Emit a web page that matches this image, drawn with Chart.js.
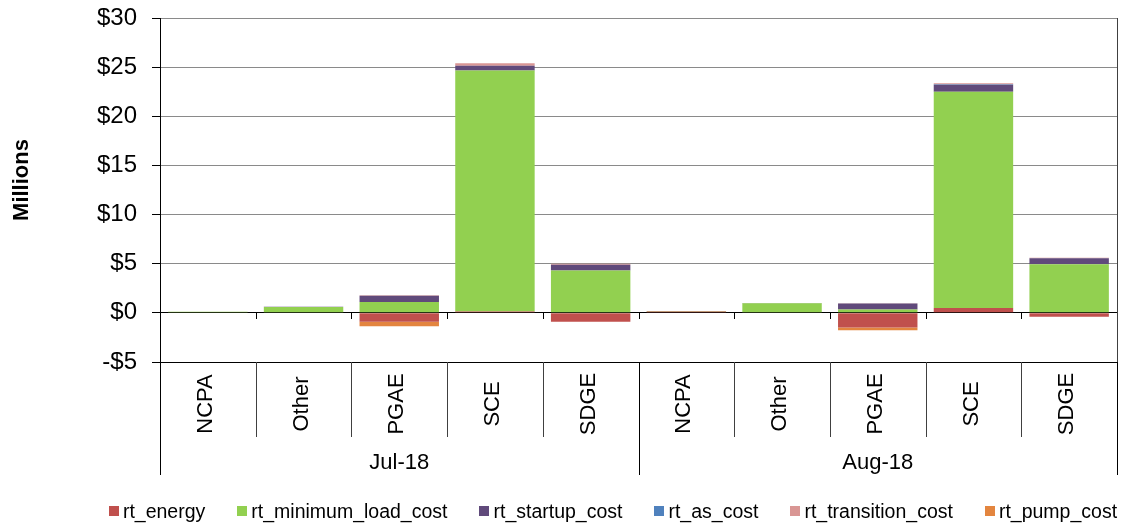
<!DOCTYPE html>
<html><head><meta charset="utf-8">
<script src="https://cdn.jsdelivr.net/npm/chart.js@4"></script>
<style>
html,body{margin:0;padding:0;background:#fff;}
#wrap{position:relative;width:1122px;height:523px;overflow:hidden;}
canvas{position:absolute;left:0;top:0;}
#legend{position:absolute;left:0;top:500px;width:1122px;display:flex;justify-content:center;padding-left:104px;box-sizing:border-box;font-family:"Liberation Sans",Arial,sans-serif;font-size:19.5px;line-height:22px;color:#000;}
.item{display:flex;align-items:center;margin-right:32px;white-space:nowrap;}
.item:last-child{margin-right:0}
.sw{width:10px;height:10px;margin-right:4px;flex:none;}
</style></head><body>
<div id="wrap"><canvas id="c" width="1122" height="523"></canvas><div id="legend"></div></div>
<script>
const categories = ['NCPA','Other','PGAE','SCE','SDGE','NCPA','Other','PGAE','SCE','SDGE'];
const groups = ['Jul-18','Aug-18'];
const groupSize = 5;
const yMin = -5, yMax = 30, yStep = 5;

const seriesNames = ['rt_energy','rt_minimum_load_cost','rt_startup_cost','rt_as_cost','rt_transition_cost','rt_pump_cost'];
const seriesColors = ['#C0504D','#92D050','#604A7B','#4F81BD','#D99694','#E3853F'];

const rt_energy            = [0.05, 0,    -0.9,  0.15, -0.9, 0.15, 0,    -1.48, 0.5,  -0.4];
const rt_minimum_load_cost = [0.05, 0.6,  1.1,  24.5,  4.3,  0.05, 0.97, 0.35,  22.0,  4.95];
const rt_startup_cost      = [0,    0.02, 0.65, 0.5,   0.6,  0,    0.03, 0.6,   0.7,   0.6];
const rt_as_cost           = [0,    0,    0,    0,     0,    0,    0,    0,     0.05,  0];
const rt_transition_cost   = [0,    0,    0.05, 0.25,  0.1,  0,    0,    0.03,  0.1,   0.05];
const rt_pump_cost         = [0,    0,    -0.45, 0,    0,    0,    0,    -0.28, 0,     0];

const seriesValues = [rt_energy, rt_minimum_load_cost, rt_startup_cost, rt_as_cost, rt_transition_cost, rt_pump_cost];

const FONT = '"Liberation Sans", Arial, sans-serif';

const datasets = seriesNames.map((n,i)=>({
  label:n, data:seriesValues[i], backgroundColor:seriesColors[i], borderWidth:0,
  stack:'s', barPercentage:0.83, categoryPercentage:1
}));

const decor = {
  id:'decor',
  afterDraw(chart){
    const {ctx, chartArea:a, scales:{x,y}} = chart;
    const n = categories.length;
    const b = [];
    for(let i=0;i<=n;i++){
      if(i===0) b.push(a.left); else if(i===n) b.push(a.right);
      else b.push((x.getPixelForValue(i-1)+x.getPixelForValue(i))/2);
    }
    const y0 = y.getPixelForValue(0);
    const px = v => Math.round(v)+0.5;
    ctx.save();
    ctx.lineWidth = 1;
    ctx.strokeStyle = '#000';
    for(let i=1;i<n;i++){
      ctx.beginPath(); ctx.moveTo(px(b[i]), Math.round(y0)); ctx.lineTo(px(b[i]), Math.round(y0)+6); ctx.stroke();
    }
    ctx.strokeStyle = '#404040';
    ctx.beginPath(); ctx.moveTo(px(a.right), a.top); ctx.lineTo(px(a.right), a.bottom); ctx.stroke();
    for(let i=0;i<=n;i++){
      const isG = i % groupSize === 0;
      ctx.strokeStyle = isG ? '#000' : '#404040';
      ctx.beginPath(); ctx.moveTo(px(b[i]), a.bottom); ctx.lineTo(px(b[i]), a.bottom + (isG ? 113 : 75)); ctx.stroke();
    }
    ctx.fillStyle = '#000';
    ctx.font = '22px ' + FONT;
    ctx.textAlign = 'center'; ctx.textBaseline = 'middle';
    for(let i=0;i<n;i++){
      ctx.save();
      ctx.translate(x.getPixelForValue(i)-2, a.bottom + 42);
      ctx.rotate(-Math.PI/2);
      ctx.fillText(categories[i], 0, 0);
      ctx.restore();
    }
    ctx.font = '22px ' + FONT;
    groups.forEach((g,gi)=>{
      const cx = (b[gi*groupSize] + b[(gi+1)*groupSize]) / 2;
      ctx.fillText(g, cx, a.bottom + 101);
    });
    ctx.save();
    ctx.font = 'bold 22px ' + FONT;
    ctx.translate(22, 180);
    ctx.rotate(-Math.PI/2);
    ctx.fillText('Millions', 0, 0);
    ctx.restore();
    ctx.restore();
  }
};

new Chart(document.getElementById('c'), {
  type:'bar',
  data:{labels:categories, datasets},
  options:{
    responsive:false, animation:false, devicePixelRatio:1,
    layout:{padding:{top:18, right:5, bottom:161, left:0}},
    plugins:{legend:{display:false}, tooltip:{enabled:false}},
    scales:{
      x:{stacked:true, display:false},
      y:{
        stacked:true, min:yMin, max:yMax,
        afterFit: s => { s.width = 160; s.paddingTop = 12; s.paddingBottom = 12; },
        ticks:{stepSize:yStep, padding:15, color:'#000', font:{family:FONT, size:24},
          callback: v => (v<0?'-$':'$') + Math.abs(v)},
        grid:{
          color: c => (c.tick && (c.tick.value===0 || c.tick.value===yMin)) ? '#000' : '#8a8a8a',
          tickColor:'#000', tickLength:8, lineWidth:1
        },
        border:{display:true, color:'#000', width:1}
      }
    }
  },
  plugins:[decor]
});

const lg = document.getElementById('legend');
seriesNames.forEach((n,i)=>{
  const it = document.createElement('div'); it.className='item';
  const sw = document.createElement('span'); sw.className='sw'; sw.style.background = seriesColors[i];
  const tx = document.createElement('span'); tx.textContent = n;
  it.appendChild(sw); it.appendChild(tx); lg.appendChild(it);
});
</script>
</body></html>
